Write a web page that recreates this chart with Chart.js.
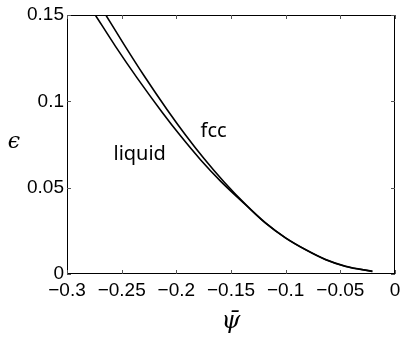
<!DOCTYPE html>
<html>
<head>
<meta charset="utf-8">
<script src="https://cdn.jsdelivr.net/npm/chart.js@4/dist/chart.umd.min.js"></script>
<style>
  html, body { margin: 0; padding: 0; background: #fff; }
  #wrap { width: 415px; height: 340px; }
</style>
</head>
<body>
<div id="wrap"><canvas id="phaseChart" width="415" height="340"></canvas></div>
<script>
// boundary curves (psi-bar, epsilon)
const psiLiquid = [-0.2741, -0.2558, -0.2359, -0.2130, -0.1962, -0.1779, -0.1596, -0.1367, -0.1184, -0.1000, -0.0817, -0.0634, -0.0451, -0.0207];
const epsLiquid = [0.1500, 0.1320, 0.1136, 0.0937, 0.0800, 0.0662, 0.0538, 0.0401, 0.0294, 0.0208, 0.0140, 0.0083, 0.0044, 0.0015];

const psiFcc = [-0.2645, -0.2482, -0.2298, -0.2079, -0.1916, -0.1749, -0.1565, -0.1367, -0.1184, -0.1000, -0.0817, -0.0634, -0.0451, -0.0207];
const epsFcc = [0.1500, 0.1333, 0.1151, 0.0947, 0.0805, 0.0670, 0.0534, 0.0403, 0.0296, 0.0209, 0.0141, 0.0084, 0.0045, 0.0015];

// tick labels
const xTickLabels = ["\u22120.3", "\u22120.25", "\u22120.2", "\u22120.15", "\u22120.1", "\u22120.05", "0"];
const yTickLabels = ["0", "0.05", "0.1", "0.15"];

// region labels (text, psi, epsilon at baseline-left)
const regionText = ["liquid", "fcc"];
const regionPsi = [-0.2575, -0.1779];
const regionEps = [0.0660, 0.0795];

const toPoints = (xs, ys) => xs.map((x, i) => ({ x, y: ys[i] }));

// box round the plot, inward ticks, epsilon and region labels
const framePlugin = {
  id: "frame",
  afterDraw(chart) {
    const { ctx, chartArea: a, scales } = chart;
    const tick = 4;
    ctx.save();
    ctx.strokeStyle = "#000";
    ctx.lineWidth = 1;
    ctx.strokeRect(a.left + 0.5, a.top + 0.5, a.right - a.left - 1, a.bottom - a.top - 1);

    ctx.strokeStyle = "#555";
    ctx.beginPath();
    scales.x.ticks.forEach(t => {
      const px = Math.round(scales.x.getPixelForValue(t.value)) + 0.5;
      ctx.moveTo(px, a.bottom); ctx.lineTo(px, a.bottom - tick);
      ctx.moveTo(px, a.top); ctx.lineTo(px, a.top + tick);
    });
    scales.y.ticks.forEach(t => {
      const py = Math.round(scales.y.getPixelForValue(t.value)) + 0.5;
      ctx.moveTo(a.left, py); ctx.lineTo(a.left + tick, py);
      ctx.moveTo(a.right, py); ctx.lineTo(a.right - tick, py);
    });
    ctx.stroke();

    // y label, kept upright like the original
    ctx.fillStyle = "#000";
    ctx.font = "italic 22px 'DejaVu Serif'";
    ctx.textAlign = "center";
    ctx.textBaseline = "middle";
    ctx.fillText("\u03f5", 14, (a.top + a.bottom) / 2 - 2);

    ctx.font = "20px 'Noto Sans'";
    ctx.textAlign = "left";
    ctx.textBaseline = "alphabetic";
    regionText.forEach((txt, i) => {
      ctx.fillText(txt, scales.x.getPixelForValue(regionPsi[i]), scales.y.getPixelForValue(regionEps[i]));
    });
    ctx.restore();
  }
};

const ctx = document.getElementById("phaseChart").getContext("2d");

new Chart(ctx, {
  type: "scatter",
  data: {
    datasets: [
      {
        label: "liquid",
        data: toPoints(psiLiquid, epsLiquid),
        showLine: true,
        borderColor: "#000",
        borderWidth: 1.6,
        pointRadius: 0,
        cubicInterpolationMode: "monotone"
      },
      {
        label: "fcc",
        data: toPoints(psiFcc, epsFcc),
        showLine: true,
        borderColor: "#000",
        borderWidth: 1.6,
        pointRadius: 0,
        cubicInterpolationMode: "monotone"
      }
    ]
  },
  options: {
    responsive: false,
    animation: false,
    layout: { padding: { top: 15, right: 20, left: 0, bottom: 0 } },
    plugins: {
      legend: { display: false },
      tooltip: { enabled: false }
    },
    scales: {
      x: {
        type: "linear",
        min: -0.3,
        max: 0,
        ticks: {
          stepSize: 0.05,
          color: "#000",
          padding: 5,
          maxRotation: 0,
          font: { family: "'Liberation Sans', Arial", size: 19 },
          callback: (v, i) => xTickLabels[i]
        },
        grid: { display: false, drawTicks: false },
        border: { display: false },
        title: {
          display: true,
          text: "\u03c8\u0304",
          color: "#000",
          font: { family: "'DejaVu Serif'", size: 24, style: "italic" },
          padding: { top: 0, bottom: 4 }
        },
        afterFit: s => { s.height = 66; }
      },
      y: {
        type: "linear",
        min: 0,
        max: 0.15,
        ticks: {
          stepSize: 0.05,
          color: "#000",
          padding: 3,
          font: { family: "'Liberation Sans', Arial", size: 19 },
          callback: (v, i) => yTickLabels[i]
        },
        grid: { display: false, drawTicks: false },
        border: { display: false },
        afterFit: s => { s.width = 67; }
      }
    }
  },
  plugins: [framePlugin]
});
</script>
</body>
</html>
